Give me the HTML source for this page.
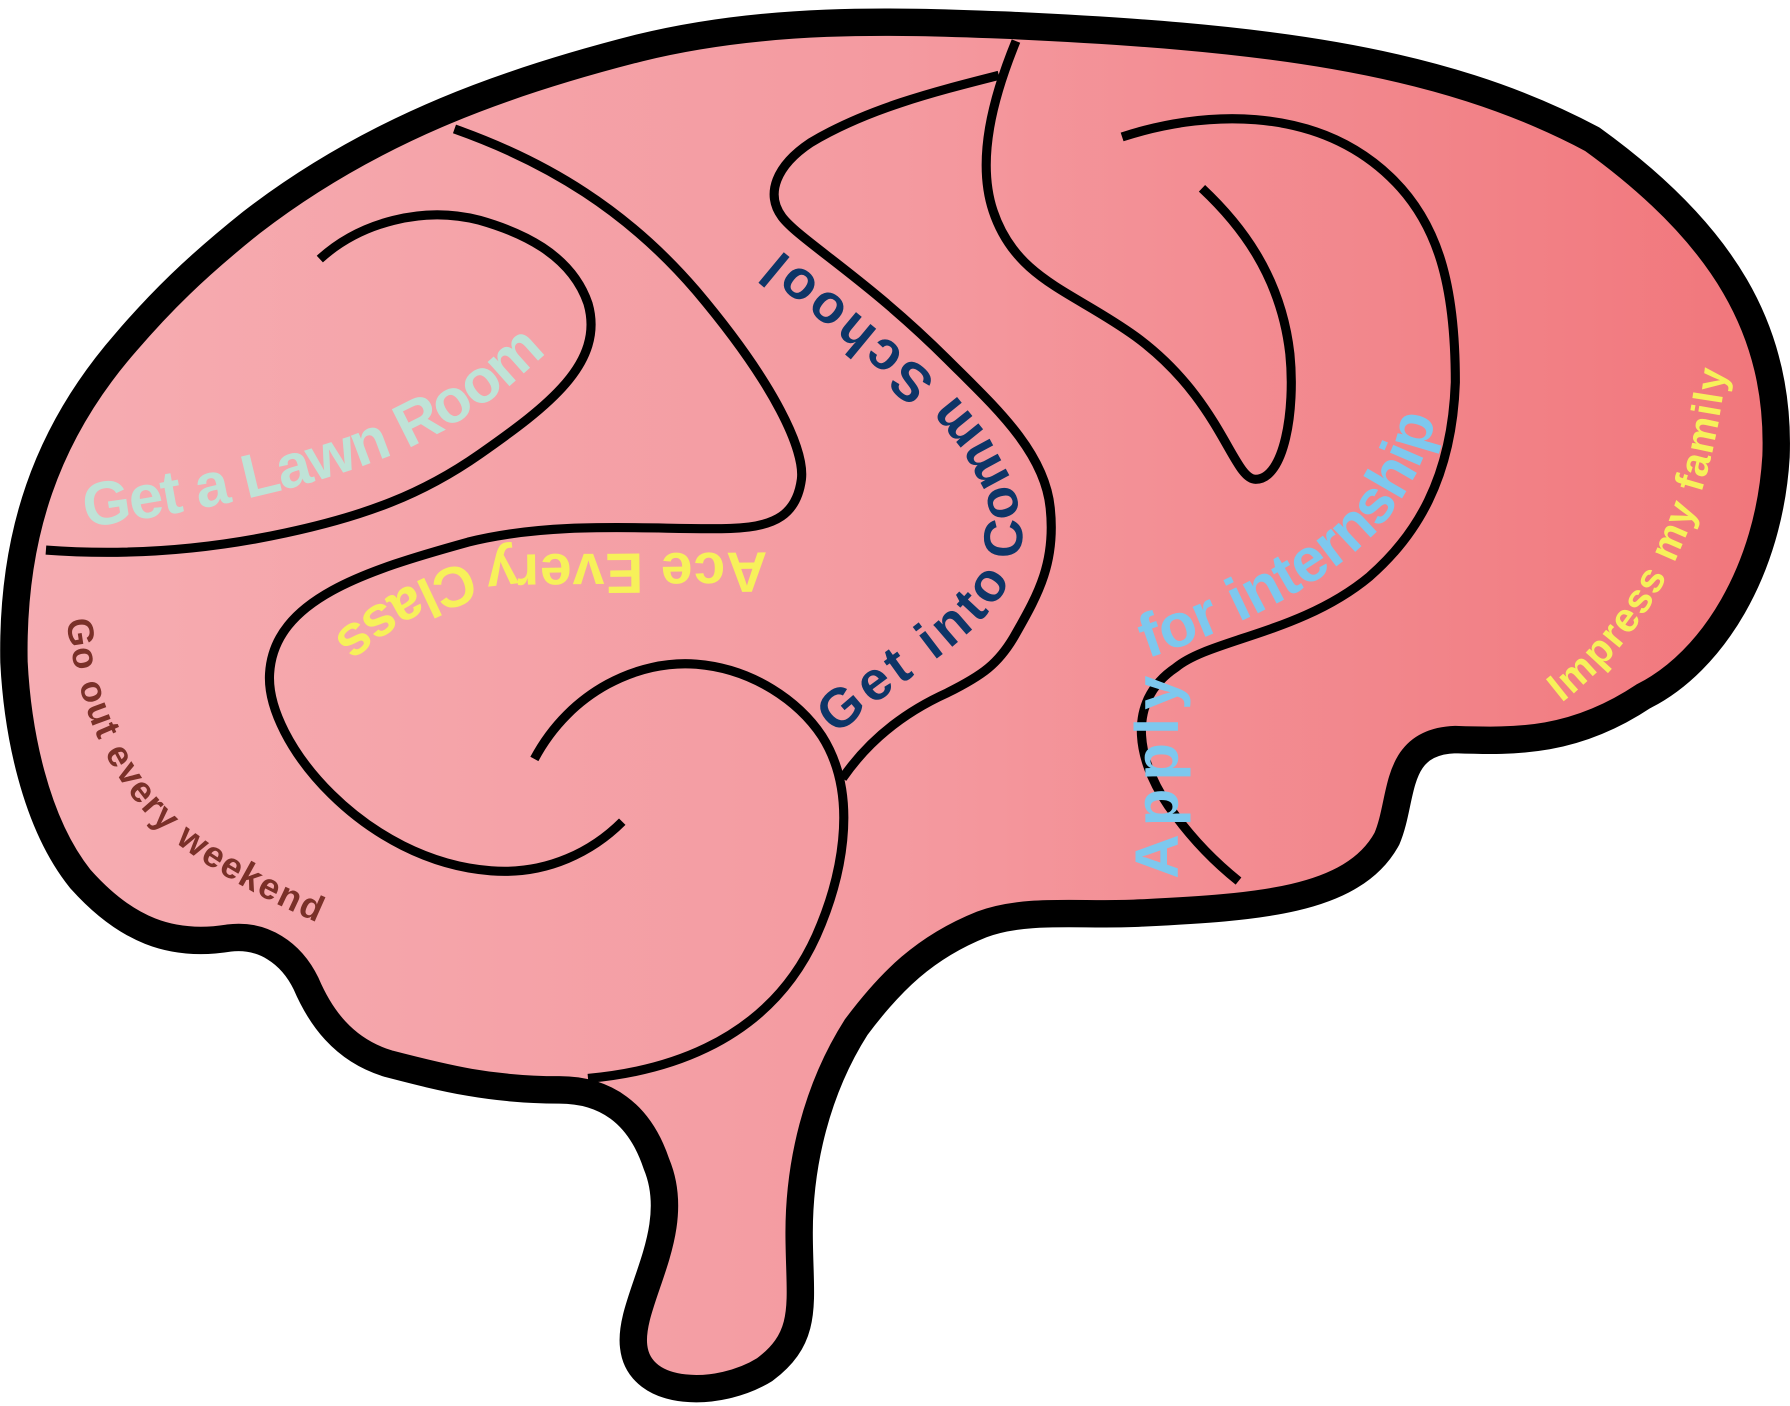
<!DOCTYPE html>
<html><head><meta charset="utf-8"><style>
html,body{margin:0;padding:0;background:#fff;width:1790px;height:1406px;overflow:hidden}
svg{display:block}
text{font-family:"Liberation Sans",sans-serif;font-weight:bold}
</style></head><body>
<svg width="1790" height="1406" viewBox="0 0 1568 1232" xmlns="http://www.w3.org/2000/svg">
<defs><linearGradient id="g" x1="0" x2="1" y1="0" y2="0">
<stop offset="0" stop-color="#f6adb2"/><stop offset="0.5" stop-color="#f49aa0"/><stop offset="1" stop-color="#f1767b"/></linearGradient>
<path id="p1" d="M 75,462 C 200,445 330,415 400,370 C 440,345 470,320 492,293"/>
<path id="p2" d="M 672,484 L 440,486 C 400,490 340,515 290,560"/>
<path id="p3" d="M 733,645 C 790,590 870,560 893,490 C 905,440 870,380 830,340 L 666,204"/>
<path id="p4" d="M 1005,577 C 1100,545 1180,500 1215,455 C 1245,415 1257,385 1264,328"/>
<path id="p5" d="M 1368,616 C 1440,560 1500,470 1515,300"/>
<path id="p6" d="M 58,543 C 70,640 110,710 170,750 C 220,785 270,805 312,823"/>
</defs>
<path d="M880,22 C1100,32 1260,50 1395,122 C1510,205 1560,290 1556,400 C1550,500 1500,580 1440,610 C1380,650 1330,650 1275,648 C1220,650 1230,700 1215,735 C1185,790 1100,795 1000,800 C950,803 900,795 860,810 C810,830 780,860 750,900 C715,955 700,1020 700,1080 C700,1140 710,1170 670,1200 C630,1225 560,1225 555,1180 C550,1140 600,1080 575,1020 C560,975 530,955 490,955 C430,955 390,945 340,932 C300,920 280,890 268,862 C255,835 230,818 200,822 C150,830 110,815 70,770 C30,720 15,640 12,580 C10,470 40,380 110,300 C140,265 170,235 220,195 C330,110 450,70 560,42 C670,15 780,18 880,22 Z" fill="url(#g)" stroke="#000" stroke-width="24" stroke-linejoin="round"/>
<g fill="none" stroke="#000" stroke-width="8" stroke-linecap="butt">
<path d="M40,482 C120,488 190,480 250,467 C320,452 370,433 420,398 C480,356 530,318 515,266 C500,222 455,203 420,193 C370,180 315,195 280,227"/>
<path d="M398,113 C480,142 550,185 610,255 C680,338 705,395 702,420 C698,450 680,462 640,463 C580,465 490,455 410,475 C320,500 240,525 236,590 C232,650 320,755 430,763 C480,767 520,745 545,720"/>
<path d="M468,665 C500,605 560,578 610,582 C660,586 700,615 720,645 C755,700 735,775 715,820 C670,920 570,940 515,945"/>
<path d="M738,682 C760,650 790,625 830,607 C860,592 875,582 890,555 C910,520 925,492 920,445 C915,395 870,355 830,315 C760,245 700,210 685,190 C670,170 680,145 710,125 C760,95 820,80 875,66"/>
<path d="M890,36 C870,85 855,140 870,185 C890,245 940,255 995,295 C1070,350 1080,420 1100,420 C1125,420 1135,360 1130,310 C1122,240 1085,195 1053,165"/>
<path d="M983,120 C1050,98 1150,90 1218,155 C1260,195 1275,250 1275,335 C1272,420 1240,470 1200,505 C1140,555 1060,560 1030,585 C985,615 995,670 1030,715 C1050,742 1070,760 1085,772"/>
</g>
<text font-size="54" fill="#bfe3d7"><textPath href="#p1" textLength="440" lengthAdjust="spacing">Get a Lawn Room</textPath></text>
<text font-size="50" fill="#f7f15a"><textPath href="#p2" textLength="400" lengthAdjust="spacing">Ace Every Class</textPath></text>
<text font-size="48" fill="#0d3567"><textPath href="#p3" textLength="585" lengthAdjust="spacing">Get into Comm School</textPath></text>
<text font-size="54" fill="#7dc8ee" textLength="178" lengthAdjust="spacing" transform="translate(1032,770) rotate(-90)">Apply</text>
<text font-size="54" fill="#7dc8ee"><textPath href="#p4" textLength="345" lengthAdjust="spacing">for internship</textPath></text>
<text font-size="36" fill="#f7f15a"><textPath href="#p5" textLength="335" lengthAdjust="spacing">Impress my family</textPath></text>
<text font-size="32" fill="#7a3028"><textPath href="#p6" textLength="365" lengthAdjust="spacing">Go out every weekend</textPath></text>
</svg>
</body></html>
